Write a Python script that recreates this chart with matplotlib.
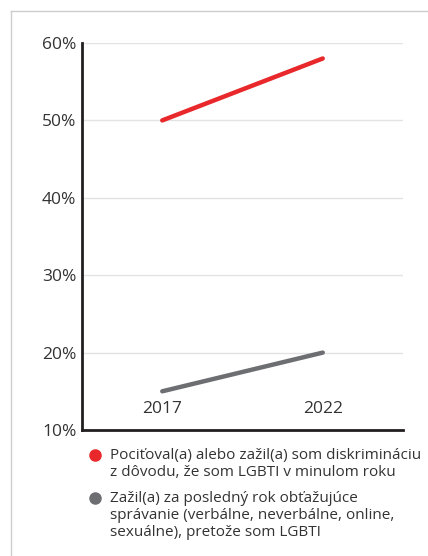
import matplotlib
matplotlib.use('Agg')
import matplotlib.pyplot as plt
from matplotlib.lines import Line2D

years = ['2017', '2022']
discrimination = [50, 58]
harassment = [15, 20]
labels = [
    'Pociťoval(a) alebo zažil(a) som diskrimináciu\nz dôvodu, že som LGBTI v minulom roku',
    'Zažil(a) za posledný rok obťažujúce\nsprávanie (verbálne, neverbálne, online,\nsexuálne), pretože som LGBTI',
]
colors = ['#e8282b', '#6d6e72']
yticks = [10, 20, 30, 40, 50, 60]

plt.rcParams['font.family'] = ['Open Sans', 'DejaVu Sans']
W, H = 428, 556
fig = plt.figure(figsize=(W / 100, H / 100), dpi=100)

# outer frame (top and left light border)
fig.add_artist(Line2D([11 / W, 11 / W], [0, 1 - 11 / H], color='#cccccc', lw=1))
fig.add_artist(Line2D([11 / W, 1], [1 - 11 / H, 1 - 11 / H], color='#cccccc', lw=1))

ax = fig.add_axes([82 / W, 1 - 430 / H, (403 - 82) / W, (430 - 43) / H])
x = range(len(years))
for vals, c in zip([discrimination, harassment], colors):
    ax.plot(x, vals, color=c, lw=3.2, solid_capstyle='round')

ax.set_xlim(-0.5, 1.5)
ax.set_ylim(10, 60)
ax.set_yticks(yticks)
ax.set_yticklabels([f'{v}%' for v in yticks])
ax.set_xticks(list(x))
ax.set_xticklabels(years)
ax.grid(axis='y', color='#e3e3e3', lw=1)
ax.set_axisbelow(True)
for s in ['top', 'right']:
    ax.spines[s].set_visible(False)
for s in ['left', 'bottom']:
    ax.spines[s].set_color('#231f20')
    ax.spines[s].set_linewidth(2)
ax.tick_params(axis='y', length=0, pad=4, labelsize=12.5, labelcolor='#333333')
ax.tick_params(axis='x', length=0, pad=-21, labelsize=12.5, labelcolor='#333333')

# legend
legend_y = [455, 498]
for c, lab, ly in zip(colors, labels, legend_y):
    fig.add_artist(Line2D([95 / W], [1 - ly / H], marker='o', markersize=8,
                          color=c, linestyle='none'))
    fig.text(110 / W, 1 - (ly - 7) / H, lab, fontsize=11, color='#333333',
             va='top', ha='left', linespacing=1.2)

fig.savefig('out.png', dpi=100)
